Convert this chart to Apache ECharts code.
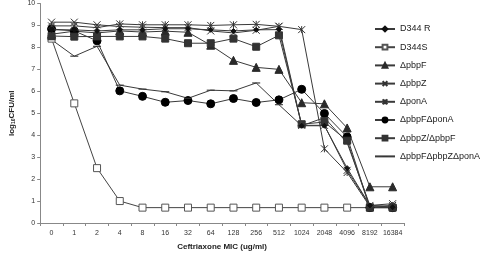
<!DOCTYPE html>
<html><head><meta charset="utf-8">
<script src="https://cdn.jsdelivr.net/npm/echarts@6/dist/echarts.min.js"></script>
<style>html,body{margin:0;padding:0;background:#fff}#c{width:480px;height:256px}</style>
</head><body><div id="c"></div>
<script>
const categories = ["0","1","2","4","8","16","32","64","128","256","512","1024","2048","4096","8192","16384"];
const yTicks = [0,1,2,3,4,5,6,7,8,9,10];
const d344R   = [8.8, 8.8, 8.75, 8.8, 8.8, 8.85, 8.85, 8.8, 8.75, 8.8, 8.81, 4.43, 4.43, 2.5, 0.8, 0.72];
const d344S   = [8.4, 5.45, 2.5, 1.0, 0.7, 0.7, 0.7, 0.7, 0.7, 0.7, 0.7, 0.7, 0.7, 0.7, 0.7, 0.7];
const pbpF    = [8.6, 8.74, 8.66, 8.75, 8.7, 8.74, 8.69, 8.1, 7.41, 7.09, 7.0, 5.48, 5.43, 4.33, 1.65, 1.65];
const pbpZ    = [9.15, 9.15, 9.03, 8.95, 8.92, 8.9, 8.9, 8.75, 8.66, 8.78, 8.96, 4.45, 4.45, 2.4, 0.8, 0.88];
const ponA    = [8.98, 8.98, 8.9, 9.07, 9.03, 9.03, 9.03, 9.0, 9.03, 9.05, 8.96, 8.81, 3.38, 2.3, 0.75, 0.8];
const pbpFponA = [8.84, 8.75, 8.3, 6.02, 5.77, 5.5, 5.58, 5.43, 5.67, 5.49, 5.61, 6.09, 4.99, 3.92, 0.7, 0.7];
const pbpZpbpF = [8.52, 8.49, 8.5, 8.5, 8.5, 8.4, 8.19, 8.19, 8.4, 8.03, 8.55, 4.5, 4.6, 3.75, 0.7, 0.7];
const pbpFpbpZponA = [8.35, 7.6, 8.05, 6.28, 6.1, 5.98, 5.68, 6.05, 6.02, 6.38, 5.39, 4.43, 4.8, 3.65, 0.8, 0.72];
const names = ["D344 R","D344S","ΔpbpF","ΔpbpZ","ΔponA","ΔpbpFΔponA","ΔpbpZ/ΔpbpF","ΔpbpFΔpbpZΔponA"];

const LC = '#3a3a3a';
function mk(name, data, symbol, size, fill, stroke, z) {
  return {
    name, type: 'line', data, symbol, symbolSize: size, z: z || 2,
    lineStyle: { color: LC, width: 1 },
    itemStyle: { color: fill, borderColor: stroke, borderWidth: 1 },
    emphasis: { disabled: true }, animation: false
  };
}
const DASH = 'path://M0,0M10,0M0,4.3L10,4.3L10,5.7L0,5.7ZM0,10M10,10';
const series = [
  mk(names[0], d344R, 'diamond', 5, '#111', '#111', 5),
  mk(names[1], d344S, 'rect', 7, '#fff', '#555', 3),
  mk(names[2], pbpF, 'triangle', 8, '#2a2a2a', '#2a2a2a', 3),
  mk(names[3], pbpZ, 'path://M0,0L10,10M10,0L0,10', 7, 'none', '#333', 4),
  mk(names[4], ponA, 'path://M0,0L10,10M10,0L0,10M5,0L5,10', 7, 'none', '#333', 4),
  mk(names[5], pbpFponA, 'circle', 8, '#000', '#000', 3),
  mk(names[6], pbpZpbpF, 'rect', 7, '#333', '#333', 3),
  mk(names[7], pbpFpbpZponA, DASH, 8, '#333', '#333', 3)
];
series[1].lineStyle.color = '#444';
series[7].itemStyle.borderWidth = 0;

const chart = echarts.init(document.getElementById('c'), null, { renderer: 'canvas' });
chart.setOption({
  animation: false,
  backgroundColor: '#fff',
  grid: { left: 22, right: 76, top: 3, bottom: 26, containLabel: false },
  legend: {
    orient: 'vertical', left: 369, top: 19,
    itemWidth: 20, itemHeight: 6, itemGap: 8.2,
    textStyle: { fontFamily: 'Liberation Sans, Arial', fontSize: 9, lineHeight: 10, color: '#222' },
    data: names
  },
  xAxis: {
    type: 'category', data: categories, boundaryGap: true,
    axisLine: { lineStyle: { color: '#888', width: 1 } },
    axisTick: { show: true, length: 3, lineStyle: { color: '#888' } },
    axisLabel: { fontFamily: 'Liberation Sans, Arial', fontSize: 7, color: '#333', margin: 7, interval: 0 },
    name: 'Ceftriaxone MIC (ug/ml)', nameLocation: 'middle', nameGap: 20,
    nameTextStyle: { fontFamily: 'Liberation Sans, Arial', fontSize: 8, fontWeight: 'bold', color: '#222' }
  },
  yAxis: {
    type: 'value', min: yTicks[0], max: yTicks[yTicks.length - 1], interval: 1,
    splitLine: { show: false },
    axisLine: { show: true, lineStyle: { color: '#888', width: 1 } },
    axisTick: { show: true, length: 3, lineStyle: { color: '#888' } },
    axisLabel: { fontFamily: 'Liberation Sans, Arial', fontSize: 7, color: '#333', margin: 5 },
    name: '{b|log}{s|10}{b|CFU/ml}', nameLocation: 'middle', nameGap: 17, nameRotate: 90,
    nameTextStyle: {
      rich: {
        b: { fontFamily: 'Liberation Sans, Arial', fontSize: 8, fontWeight: 'bold', color: '#222' },
        s: { fontFamily: 'Liberation Sans, Arial', fontSize: 5, fontWeight: 'bold', color: '#222', verticalAlign: 'bottom', padding: [4,0,0,0] }
      }
    }
  },
  series
});
</script></body></html>
